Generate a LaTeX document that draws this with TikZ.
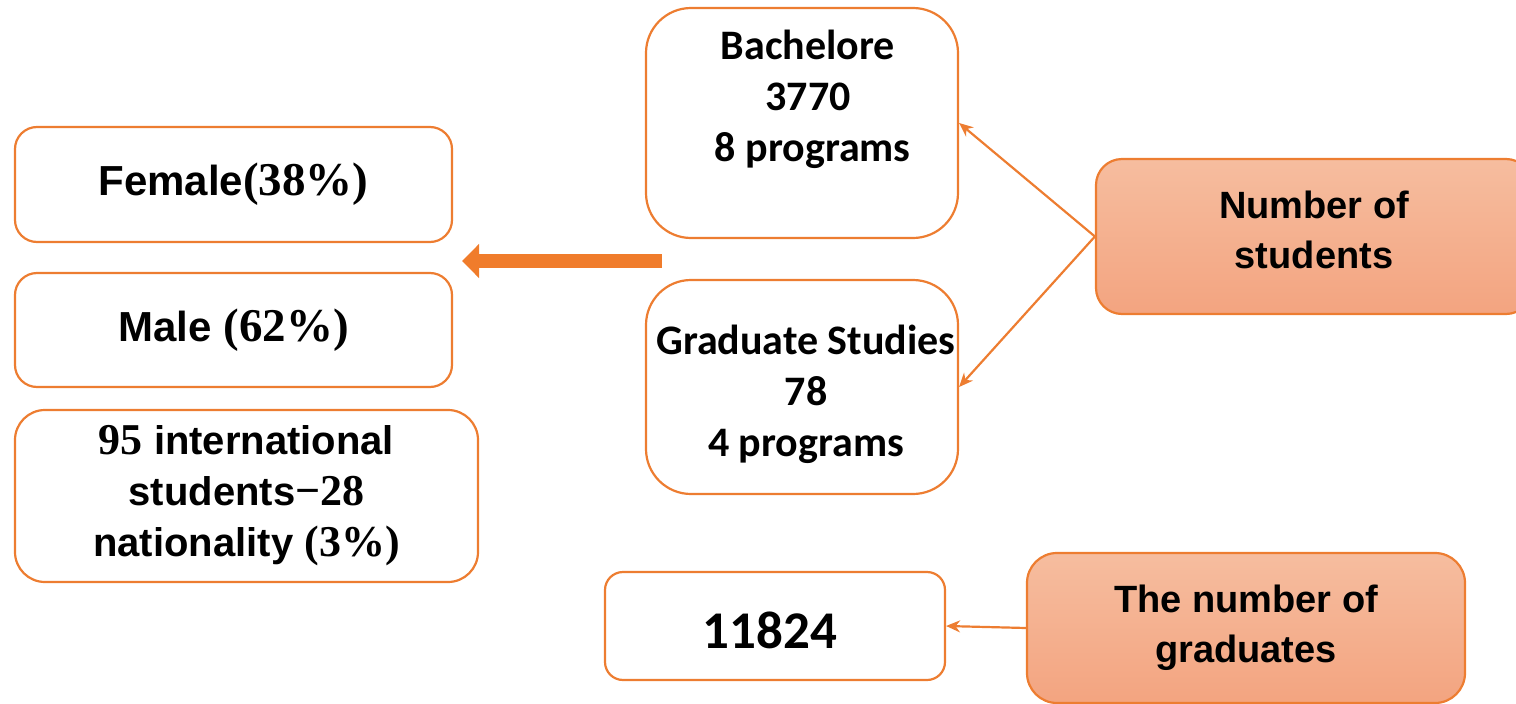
\documentclass[tikz,border=0pt]{standalone}
\usepackage{fontspec}
\usepackage{xcolor}
\usepackage{tikz}
\usetikzlibrary{positioning,arrows.meta}

\newfontfamily\calibrifont{Carlito}
\newfontfamily\arialfont{Liberation Sans}
\newfontfamily\timesfont{Liberation Serif}

\definecolor{boxorange}{HTML}{ED7D31}
\definecolor{fatorange}{HTML}{F07C2B}
\definecolor{shadetop}{HTML}{F6BD9F}
\definecolor{shadebottom}{HTML}{F3A480}

\newcommand{\pctfig}[2][47]{{\timesfont\bfseries\fontsize{#1}{51}\selectfont #2}}

\tikzset{
  roundbox/.style={draw=boxorange, line width=2.2pt, fill=white, rounded corners=22pt, inner sep=0pt},
  shadebox/.style={draw=boxorange, line width=2.2pt, rounded corners=26pt, top color=shadetop, bottom color=shadebottom, inner sep=0pt},
  thinarrow/.style={draw=boxorange, line width=2.2pt, -{Stealth[length=14pt,width=12pt]}},
  fatarrow/.style={draw=fatorange, line width=14pt, -{Triangle[length=17pt,width=33pt]}},
  sanstext/.style={font=\arialfont\bfseries\fontsize{42}{51}\selectfont, align=center},
  headtext/.style={font=\arialfont\bfseries\fontsize{38}{50}\selectfont, align=center},
  calitext/.style={font=\calibrifont\bfseries\fontsize{42}{51}\selectfont, align=center}
}

\begin{document}
\begin{tikzpicture}[x=1pt,y=-1pt]
  \useasboundingbox (0,0) rectangle (1516,704);

  % left column
  \node (female) [roundbox, sanstext, minimum width=437pt, minimum height=115pt] at (233.5,184.5) {Female\pctfig{(38\%)}};
  \node (male) [roundbox, sanstext, minimum width=437pt, minimum height=114pt, below=28.8pt of female] {Male \pctfig{(62\%)}};
  \node (intl) [roundbox, sanstext, rounded corners=30pt, minimum width=463pt, minimum height=172pt, font=\arialfont\bfseries\fontsize{40}{51}\selectfont, below=20.8pt of male.south west, anchor=north west] {\pctfig[44]{95} international\\students\pctfig[44]{−28}\\nationality \pctfig[44]{(3\%)}};

  % middle column
  \node (bach) [roundbox, rounded corners=45pt, minimum width=312pt, minimum height=230pt] at (802,123) {};
  \node (bachtext) [calitext] at (808,99) {Bachelore\\3770\\\ 8 programs};
  \node (grad) [roundbox, rounded corners=45pt, minimum width=312pt, minimum height=214pt] at (802,387) {};
  \node (gradtext) [calitext] at (806,394) {Graduate Studies\\78\\4 programs};
  \node (total) [roundbox, rounded corners=18pt, minimum width=340pt, minimum height=108pt, font=\calibrifont\bfseries\fontsize{53}{60}\selectfont] at (775,626) {};
  \node (totaltext) [font=\calibrifont\bfseries\fontsize{53}{60}\selectfont] at (770,630) {11824};

  % right column
  \node (students) [shadebox, minimum width=436pt, minimum height=155pt] at (1314,236.5) {};
  \node (studentstext) [headtext] at (1314,230) {Number of\\students};
  \node (graduates) [shadebox, headtext, rounded corners=30pt, minimum width=438pt, minimum height=150pt] at (1246,628) {The number of\\graduates};

  \coordinate (fatstart) at (662,261);
  \coordinate (fatend) at (462,261);

  \draw[fatarrow] (fatstart) -- (fatend);
  \draw[thinarrow] (students.west) -- (bach.east);
  \draw[thinarrow] (students.west) -- (grad.east);
  \draw[thinarrow] (graduates.west) -- (total.east);
\end{tikzpicture}
\end{document}
